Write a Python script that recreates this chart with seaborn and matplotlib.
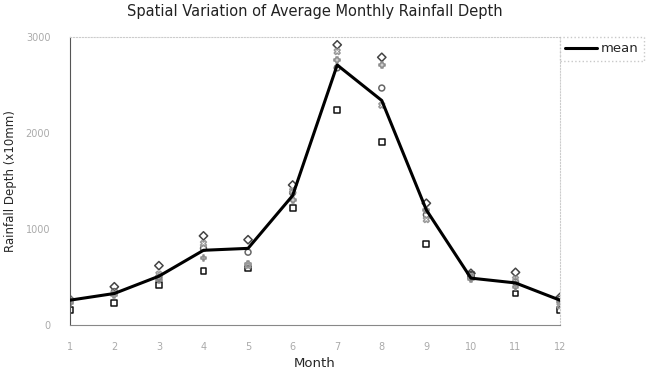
import matplotlib
matplotlib.use("Agg")
import matplotlib.pyplot as plt
import seaborn as sns
import pandas as pd

months = list(range(1, 13))

# mean monthly rainfall depth (x10mm)
mean_depth = [260, 330, 510, 780, 800, 1350, 2710, 2340, 1200, 490, 440, 260]

# individual stations
station_a = [160, 230, 420, 560, 590, 1220, 2240, 1910, 850, 520, 330, 160]
station_b = [270, 400, 620, 930, 890, 1460, 2920, 2790, 1270, 540, 550, 290]
station_c = [250, 350, 500, 800, 760, 1380, 2680, 2470, 1150, 500, 450, 270]
station_d = [230, 310, 470, 700, 640, 1300, 2760, 2710, 1200, 480, 400, 240]
station_e = [260, 330, 530, 850, 620, 1400, 2850, 2290, 1100, 510, 480, 200]

station_names = ["A", "B", "C", "D", "E"]
station_vals = [station_a, station_b, station_c, station_d, station_e]

rows = []
for name, vals in zip(station_names, station_vals):
    for m, v in zip(months, vals):
        rows.append({"Month": m, "Depth": v, "Station": name})
stations = pd.DataFrame(rows)
mean_df = pd.DataFrame({"Month": months, "Depth": mean_depth})

sns.set_style("white")
plt.rcParams["font.family"] = ["DejaVu Sans"]

fig = plt.figure(figsize=(6.52, 3.83), dpi=100)
ax = fig.add_axes([0.107, 0.151, 0.752, 0.752])

markers = {"A": "s", "B": "D", "C": "o", "D": "P", "E": "X"}
palette = {"A": "#111111", "B": "#444444", "C": "#666666", "D": "#888888", "E": "#999999"}
sns.scatterplot(data=stations, x="Month", y="Depth", hue="Station", style="Station",
                markers=markers, palette=palette, s=18, ax=ax, legend=False, zorder=2)
for coll in ax.collections:
    fc = coll.get_facecolors()
    coll.set_edgecolors(fc)
    coll.set_facecolors("none")
    coll.set_linewidths(1.1)

sns.lineplot(data=mean_df, x="Month", y="Depth", color="black", linewidth=2.2,
             ax=ax, label="mean", zorder=3)

ax.set_xlim(1, 12)
ax.set_ylim(0, 3000)
ax.set_xticks(months)
ax.set_yticks([0, 1000, 2000, 3000])
ax.tick_params(axis="both", colors="#aaaaaa", labelsize=7, length=3, direction="in")
ax.tick_params(axis="x", pad=12)
ax.tick_params(axis="y", pad=14)

ax.spines["left"].set_color("#555555")
ax.spines["bottom"].set_color("#888888")
for side in ["top", "right"]:
    ax.spines[side].set_color("#cccccc")
    ax.spines[side].set_linestyle(":")

ax.set_title("Spatial Variation of Average Monthly Rainfall Depth", fontsize=10.5, color="#222222", pad=15)
ax.set_xlabel("Month", fontsize=9.5, labelpad=4)
ax.set_ylabel("Rainfall Depth (x10mm)", fontsize=8.5, labelpad=6)

leg = ax.legend(loc="upper left", bbox_to_anchor=(1.0, 1.0), frameon=True,
                fontsize=9.5, borderaxespad=0, handlelength=2.4, handletextpad=0.3,
                fancybox=False)
leg.get_frame().set_edgecolor("#bbbbbb")
leg.get_frame().set_linestyle(":")

fig.savefig("out.png", dpi=100)
